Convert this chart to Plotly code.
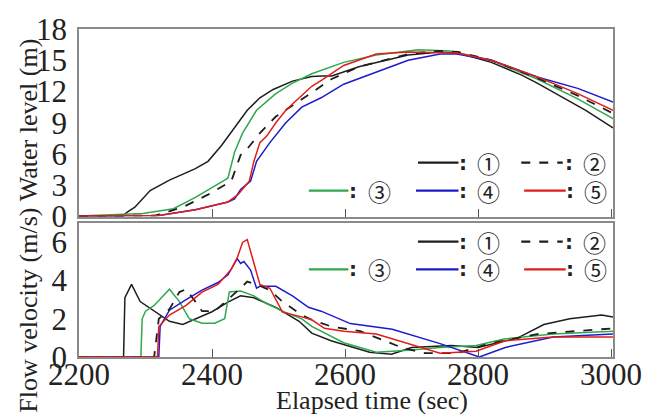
import plotly.graph_objects as go
from plotly.subplots import make_subplots

# ---------------- data: water level (m) ----------------
t_wl1 = [2200, 2266, 2272, 2284, 2307, 2336, 2375, 2394, 2414, 2434, 2453, 2472, 2492, 2521, 2550, 2565, 2580, 2622, 2695, 2743, 2770, 2820, 2865, 2889, 2962, 3003]
wl1   = [0.05, 0.05, 0.4, 0.9, 2.5, 3.5, 4.6, 5.3, 6.8, 8.6, 10.2, 11.4, 12.2, 13.0, 13.45, 13.5, 13.5, 14.4, 15.5, 15.8, 15.7, 14.8, 13.6, 12.8, 10.2, 8.5]

t_wl2 = [2200, 2315, 2356, 2394, 2429, 2443, 2453, 2472, 2496, 2521, 2550, 2580, 2622, 2695, 2740, 2770, 2820, 2889, 2950, 3003]
wl2   = [0.05, 0.1, 0.9, 2.1, 3.4, 5.9, 6.5, 8.0, 9.6, 10.7, 11.9, 13.2, 14.4, 15.6, 15.9, 15.8, 15.0, 13.3, 11.6, 9.9]

t_wl3 = [2200, 2296, 2342, 2375, 2419, 2424, 2434, 2446, 2467, 2496, 2521, 2550, 2598, 2647, 2710, 2758, 2820, 2889, 2950, 3003]
wl3   = [0.05, 0.3, 0.75, 1.85, 3.5, 3.7, 6.2, 8.0, 10.2, 11.8, 12.8, 13.7, 14.8, 15.5, 16.0, 15.9, 15.0, 13.2, 11.3, 9.4]

t_wl4 = [2200, 2320, 2375, 2424, 2434, 2443, 2458, 2467, 2487, 2511, 2535, 2564, 2598, 2647, 2695, 2743, 2768, 2820, 2889, 2950, 3003]
wl4   = [0.05, 0.1, 0.65, 1.4, 1.7, 2.6, 3.4, 5.3, 7.1, 9.0, 10.5, 11.4, 12.7, 13.9, 15.0, 15.6, 15.6, 15.0, 13.4, 12.3, 11.0]

t_wl5 = [2200, 2320, 2375, 2424, 2439, 2456, 2463, 2472, 2482, 2496, 2511, 2550, 2565, 2598, 2647, 2695, 2768, 2820, 2889, 2950, 3003]
wl5   = [0.05, 0.1, 0.65, 1.4, 2.1, 3.4, 5.3, 7.1, 7.7, 9.0, 10.2, 12.5, 13.1, 14.5, 15.6, 15.8, 15.7, 15.0, 13.4, 11.8, 10.2]

# ---------------- data: flow velocity (m/s) ----------------
t_v1 = [2200, 2267, 2269, 2279, 2292, 2313, 2336, 2356, 2375, 2400, 2424, 2443, 2463, 2496, 2531, 2550, 2579, 2637, 2670, 2700, 2760, 2800, 2860, 2899, 2938, 2986, 3003]
v1   = [0.0, 0.0, 3.1, 3.8, 2.9, 2.4, 1.87, 1.7, 2.0, 2.37, 2.87, 3.2, 3.1, 2.6, 1.87, 1.25, 0.85, 0.25, 0.15, 0.5, 0.6, 0.5, 1.0, 1.7, 2.0, 2.2, 2.1]

t_v2 = [2200, 2313, 2320, 2336, 2351, 2361, 2375, 2385, 2404, 2424, 2443, 2453, 2467, 2487, 2506, 2535, 2550, 2579, 2623, 2685, 2720, 2768, 2817, 2889, 3003]
v2   = [0.0, 0.0, 2.0, 2.5, 3.4, 3.55, 2.9, 2.4, 2.4, 3.0, 3.6, 3.95, 3.8, 3.5, 2.9, 2.2, 1.95, 1.6, 1.35, 0.5, 0.2, 0.2, 0.7, 1.2, 1.5]

t_v3 = [2200, 2293, 2295, 2300, 2313, 2336, 2351, 2366, 2385, 2404, 2419, 2426, 2443, 2463, 2482, 2506, 2535, 2550, 2598, 2647, 2695, 2743, 2797, 2841, 2913, 3003]
v3   = [0.0, 0.0, 2.0, 2.4, 2.7, 3.55, 2.9, 2.0, 1.77, 1.77, 2.0, 3.4, 3.45, 3.2, 2.8, 2.4, 2.0, 1.6, 0.75, 0.25, 0.35, 0.5, 0.6, 0.95, 1.2, 1.35]

t_v4 = [2200, 2320, 2322, 2336, 2361, 2385, 2409, 2424, 2438, 2443, 2448, 2458, 2467, 2472, 2496, 2521, 2545, 2564, 2608, 2671, 2743, 2802, 2841, 2913, 3003]
v4   = [0.0, 0.0, 1.6, 2.45, 3.0, 3.5, 3.9, 4.3, 5.15, 4.9, 5.0, 4.55, 3.6, 3.7, 3.7, 3.2, 2.6, 2.4, 1.75, 1.45, 0.7, 0.0, 0.5, 1.05, 1.2]

t_v5 = [2200, 2318, 2320, 2336, 2361, 2385, 2409, 2429, 2438, 2446, 2453, 2458, 2465, 2472, 2487, 2496, 2506, 2535, 2550, 2569, 2598, 2647, 2695, 2743, 2797, 2841, 2913, 3003]
v5   = [0.0, 0.0, 1.6, 2.2, 2.7, 3.4, 3.8, 4.6, 5.2, 6.0, 6.15, 5.55, 4.65, 3.8, 3.6, 3.0, 2.35, 2.1, 1.95, 1.5, 1.35, 1.2, 0.7, 0.2, 0.3, 0.85, 1.05, 1.05]

x_ticks = [2200, 2400, 2600, 2800, 3000]
wl_ticks = [0, 3, 6, 9, 12, 15, 18]
v_ticks = [0, 2, 4, 6]
legend_labels = ["①", "②", "③", "④", "⑤"]

BLACK = "#1e1e1e"
GREEN = "#2fa84f"
BLUE = "#1c1ccc"
RED = "#e01c1c"
styles = [
    dict(color=BLACK, width=1.5, dash="solid"),
    dict(color=BLACK, width=1.8, dash="dash"),
    dict(color=GREEN, width=1.5, dash="solid"),
    dict(color=BLUE, width=1.5, dash="solid"),
    dict(color=RED, width=1.5, dash="solid"),
]

W, H = 654, 416
L, R, T, B = 79, 22, 16, 59
PW, PH = W - L - R, H - T - B
X_RANGE = [2200, 3003]

fig = make_subplots(rows=2, cols=1, shared_xaxes=False, vertical_spacing=0.02)

wl_series = [(t_wl1, wl1), (t_wl2, wl2), (t_wl3, wl3), (t_wl4, wl4), (t_wl5, wl5)]
v_series = [(t_v1, v1), (t_v2, v2), (t_v3, v3), (t_v4, v4), (t_v5, v5)]
order = [0, 2, 3, 1, 4]
for i in order:
    tx, ty = wl_series[i]
    fig.add_trace(go.Scatter(x=tx, y=ty, mode="lines", line=styles[i], showlegend=False), row=1, col=1)
for i in order:
    tx, ty = v_series[i]
    fig.add_trace(go.Scatter(x=tx, y=ty, mode="lines", line=styles[i], showlegend=False), row=2, col=1)

# empty helper trace so the label-carrying overlay x axis is drawn
fig.add_trace(go.Scatter(x=[X_RANGE[0]], y=[None], xaxis="x3", yaxis="y2", mode="lines",
                         showlegend=False, hoverinfo="skip"))

serif = "Liberation Serif"
tickfont = dict(family=serif, size=31, color="#222")
frame = dict(showline=True, linecolor="#8a8a8a", linewidth=1.5, mirror=True, showgrid=False, zeroline=False)

top_dom = [(357 - 211) / PH, 1.0]
bot_dom = [0.0, (357 - 218) / PH]

fig.update_xaxes(range=X_RANGE, tickvals=x_ticks, ticks="inside", ticklen=8, tickcolor="#555",
                 showticklabels=False, **frame)
fig.update_yaxes(ticks="", tickfont=tickfont, ticklabelstandoff=4, ticklabeloverflow="allow", **frame)
fig.update_yaxes(range=[0, 18], tickvals=wl_ticks, domain=top_dom, row=1, col=1)
fig.update_yaxes(range=[0, 7], tickvals=v_ticks, domain=bot_dom, row=2, col=1)

def px(x):
    return (x - L) / PW

def py(y):
    return (H - B - y) / PH

# overlay axis carrying the bottom tick labels, positioned to sit tight below the frame
fig.update_layout(xaxis3=dict(overlaying="x2", anchor="free", position=py(353), range=X_RANGE,
                              tickvals=x_ticks, ticks="", showline=False, showgrid=False, zeroline=False,
                              showticklabels=True, tickfont=tickfont, ticklabeloverflow="allow",
                              ticklabelstandoff=0))

ann = []
shapes = []
titlefont = dict(family=serif, size=26, color="#222")
ann.append(dict(text="Water level (m)", x=px(27), y=py(110), xref="paper", yref="paper",
                textangle=-90, showarrow=False, font=titlefont, xanchor="center", yanchor="middle"))
ann.append(dict(text="Flow velocity (m/s)", x=px(27), y=py(308), xref="paper", yref="paper",
                textangle=-90, showarrow=False, font=titlefont, xanchor="center", yanchor="middle"))
ann.append(dict(text="Elapsed time (sec)", x=px(382), y=py(402), xref="paper", yref="paper",
                showarrow=False, font=titlefont, xanchor="center", yanchor="middle"))

colon_font = dict(family="DejaVu Sans", size=20, color="#222")
digit_font = dict(family="Noto Sans CJK JP", size=23, color="#222")
def legend(row1_y, row2_y):
    # (series index, line x0, line x1, colon x, digit center x, row y)
    items = [
        (0, 430, 472, 477, 503, row1_y),
        (1, 537, 580, 586, 613, row1_y),
        (2, 317, 358, 363, 390, row2_y),
        (3, 428, 472, 477, 503, row2_y),
        (4, 540, 583, 587, 614, row2_y),
    ]
    for idx, x0, x1, cx, dx, yy in items:
        st = styles[idx]
        shapes.append(dict(type="line", xref="paper", yref="paper", x0=px(x0), x1=px(x1), y0=py(yy), y1=py(yy),
                           line=dict(color=st["color"], width=2.2, dash=st["dash"])))
        ann.append(dict(text="<b>:</b>", x=px(cx), y=py(yy), xref="paper", yref="paper",
                        showarrow=False, font=colon_font, xanchor="center", yanchor="middle"))
        ann.append(dict(text=legend_labels[idx], x=px(dx), y=py(yy), xref="paper", yref="paper",
                        showarrow=False, font=digit_font, xanchor="center", yanchor="middle"))

legend(155, 184)
legend(237, 266)

fig.update_layout(width=W, height=H, margin=dict(l=L, r=R, t=T, b=B),
                  paper_bgcolor="white", plot_bgcolor="white",
                  annotations=ann, shapes=shapes, showlegend=False)

fig.write_html("out.html", config={"displayModeBar": False},
               post_script="document.body.style.margin='0';")
